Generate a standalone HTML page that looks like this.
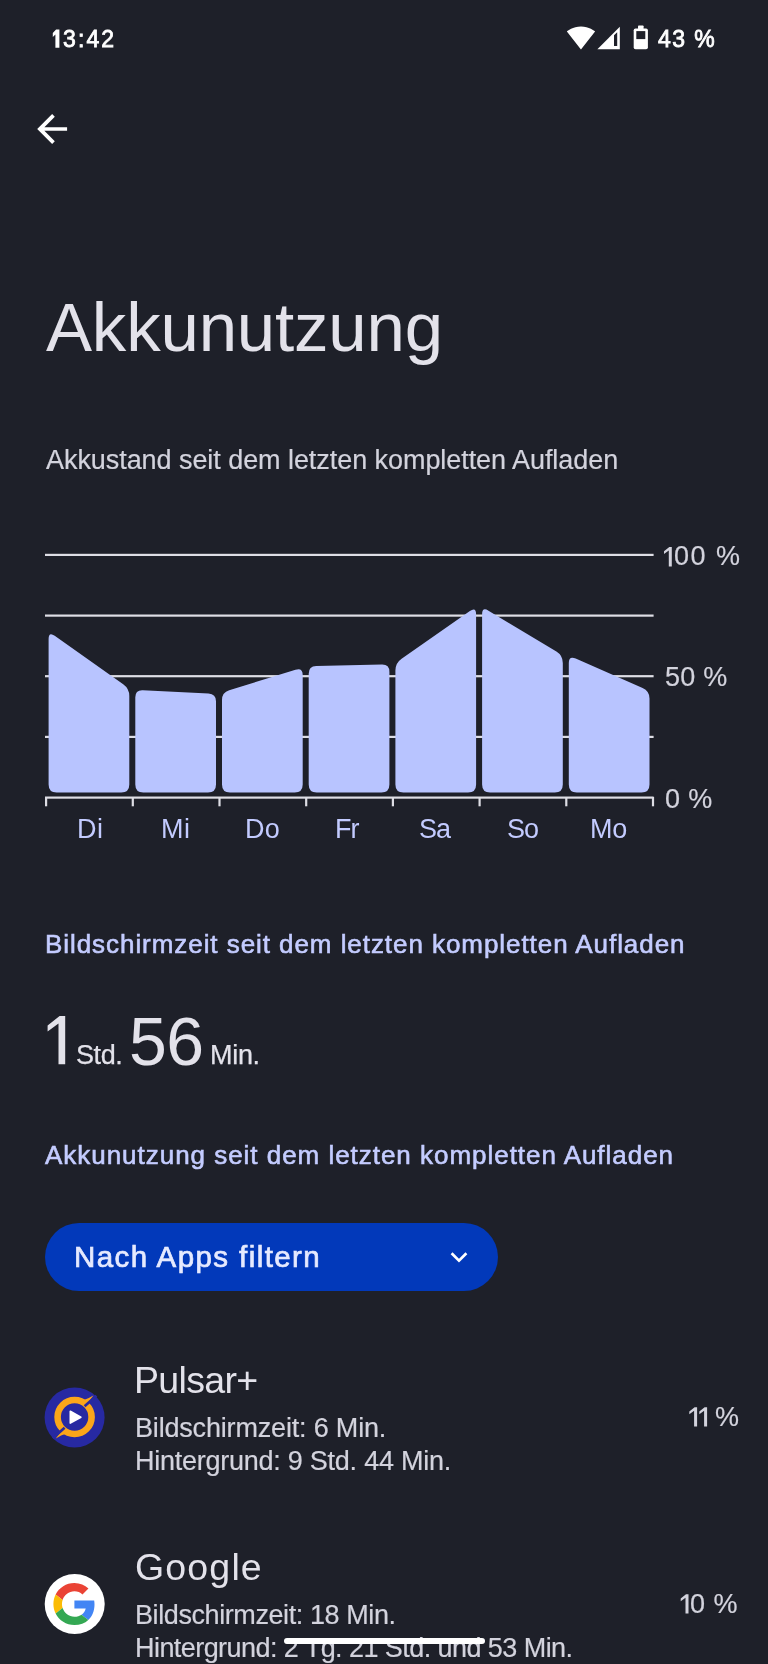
<!DOCTYPE html>
<html lang="de">
<head>
<meta charset="utf-8">
<title>Akkunutzung</title>
<style>
html,body{margin:0;padding:0;}
body{width:768px;height:1664px;overflow:hidden;background:#1e2029;position:relative;
  font-family:"Liberation Sans",sans-serif;color:#e3e2ea;}
.t{position:absolute;white-space:nowrap;line-height:1;margin:0;padding:0;will-change:transform;}
.med{-webkit-text-stroke:0.6px currentColor;}
.lt{-webkit-text-stroke:0.25px currentColor;}
.hvy{-webkit-text-stroke:0.8px currentColor;}
svg{position:absolute;left:0;top:0;}
.sec{color:#c3cbff;}
.sec.med{color:#c4ccff;}
.h{display:inline-block;width:0;overflow:visible;color:transparent;-webkit-text-stroke:0 transparent;letter-spacing:0;}
.sub{color:#d3d3dd;-webkit-text-stroke:0.2px currentColor;}
</style>
</head>
<body>

<!-- status bar -->
<div class="t hvy" id="clock" style="left:62.5px;top:28.1px;font-size:23px;letter-spacing:2.13px;color:#fff;"><span class="h">1</span>3:42</div>
<div class="t hvy" id="batt" style="left:657.5px;top:28.0px;font-size:23px;letter-spacing:1.4px;color:#fff;">43 %</div>

<!-- title -->
<div class="t" id="title" style="left:45.8px;top:292.8px;font-size:69px;letter-spacing:-0.19px;">Akkunutzung</div>
<div class="t sub" id="sub1" style="left:45.6px;top:447.1px;font-size:27px;letter-spacing:-0.06px;">Akkustand seit dem letzten kompletten Aufladen</div>

<!-- chart -->
<svg width="768" height="1664" viewBox="0 0 768 1664" style="pointer-events:none">
<g fill="#dedee5"><rect x="45" y="553.8" width="608.6" height="2.2"/><rect x="45" y="614.5" width="608.6" height="2.2"/><rect x="45" y="675.1" width="608.6" height="2.2"/><rect x="45" y="735.8" width="608.6" height="2.2"/><rect x="45" y="796.5" width="608.6" height="2.2"/><rect x="45.0" y="797" width="2.2" height="9.3"/><rect x="131.7" y="797" width="2.2" height="9.3"/><rect x="218.4" y="797" width="2.2" height="9.3"/><rect x="305.1" y="797" width="2.2" height="9.3"/><rect x="391.8" y="797" width="2.2" height="9.3"/><rect x="478.5" y="797" width="2.2" height="9.3"/><rect x="565.2" y="797" width="2.2" height="9.3"/><rect x="651.9" y="797" width="2.2" height="9.3"/></g>
<g fill="#b8c4ff"><path d="M48.6 639.0 Q48.6 631.5 54.7 635.8 L123.2 684.2 Q129.3 688.5 129.3 696.0 L129.3 784.6 Q129.3 792.6 121.3 792.6 L56.6 792.6 Q48.6 792.6 48.6 784.6 Z"/><path d="M135.3 697.3 Q135.3 689.8 142.8 690.2 L208.5 693.4 Q216.0 693.8 216.0 701.3 L216.0 784.6 Q216.0 792.6 208.0 792.6 L143.3 792.6 Q135.3 792.6 135.3 784.6 Z"/><path d="M222.0 700.0 Q222.0 692.5 229.2 690.3 L295.5 669.7 Q302.7 667.5 302.7 675.0 L302.7 784.6 Q302.7 792.6 294.7 792.6 L230.0 792.6 Q222.0 792.6 222.0 784.6 Z"/><path d="M308.7 673.8 Q308.7 666.3 316.2 666.1 L381.9 664.6 Q389.4 664.4 389.4 671.9 L389.4 784.6 Q389.4 792.6 381.4 792.6 L316.7 792.6 Q308.7 792.6 308.7 784.6 Z"/><path d="M395.4 670.5 Q395.4 663.0 401.6 658.7 L469.9 611.1 Q476.1 606.8 476.1 614.3 L476.1 784.6 Q476.1 792.6 468.1 792.6 L403.4 792.6 Q395.4 792.6 395.4 784.6 Z"/><path d="M482.1 614.3 Q482.1 606.8 488.5 610.7 L556.4 651.6 Q562.8 655.5 562.8 663.0 L562.8 784.6 Q562.8 792.6 554.8 792.6 L490.1 792.6 Q482.1 792.6 482.1 784.6 Z"/><path d="M568.8 663.0 Q568.8 655.5 575.7 658.5 L642.6 688.0 Q649.5 691.0 649.5 698.5 L649.5 784.6 Q649.5 792.6 641.5 792.6 L576.8 792.6 Q568.8 792.6 568.8 784.6 Z"/></g>
</svg>
<!-- chart labels -->
<div class="t sub" id="p100" style="left:673.8px;top:543.4px;font-size:27px;letter-spacing:1.47px;"><span class="h">1</span>00 %</div>
<div class="t sub" id="p50" style="left:664.8px;top:664.4px;font-size:27px;letter-spacing:0.27px;">50 %</div>
<div class="t sub" id="p0" style="left:664.8px;top:785.7px;font-size:27px;letter-spacing:0.4px;">0 %</div>

<div class="t sec" id="d1" style="left:76.6px;top:815.9px;font-size:27px;letter-spacing:0.5px;">Di</div>
<div class="t sec" id="d2" style="left:161.2px;top:815.9px;font-size:27px;letter-spacing:0.6px;">Mi</div>
<div class="t sec" id="d3" style="left:245.1px;top:815.9px;font-size:27px;letter-spacing:0.2px;">Do</div>
<div class="t sec" id="d4" style="left:334.9px;top:815.9px;font-size:27px;letter-spacing:-1.0px;">Fr</div>
<div class="t sec" id="d5" style="left:418.9px;top:815.9px;font-size:27px;letter-spacing:-1.0px;">Sa</div>
<div class="t sec" id="d6" style="left:507.0px;top:815.9px;font-size:27px;letter-spacing:-1.0px;">So</div>
<div class="t sec" id="d7" style="left:590.4px;top:815.9px;font-size:27px;letter-spacing:-0.3px;">Mo</div>

<!-- screen time -->
<div class="t sec med" id="sec1" style="left:44.5px;top:931.0px;font-size:26px;letter-spacing:0.94px;">Bildschirmzeit seit dem letzten kompletten Aufladen</div>
<div class="t" id="n1" style="left:45px;top:1007px;font-size:68px;color:transparent;">1</div>
<div class="t lt" id="u1" style="left:75.8px;top:1041.6px;font-size:27px;letter-spacing:-0.43px;">Std.</div>
<div class="t" id="n2" style="left:128.8px;top:1007.3px;font-size:68px;letter-spacing:-0.6px;">56</div>
<div class="t lt" id="u2" style="left:209.8px;top:1041.6px;font-size:27px;letter-spacing:-0.3px;">Min.</div>

<div class="t sec med" id="sec2" style="left:45.0px;top:1142.3px;font-size:26px;letter-spacing:0.97px;">Akkunutzung seit dem letzten kompletten Aufladen</div>

<!-- filter button -->
<div id="btn" style="position:absolute;left:45px;top:1223px;width:452.6px;height:68px;border-radius:34px;background:#0239ba;"></div>
<div class="t med" id="btnt" style="left:73.6px;top:1241.6px;font-size:29.5px;letter-spacing:1.42px;color:#e6eaff;-webkit-text-stroke:0.7px currentColor;">Nach Apps filtern</div>

<!-- rows -->
<div class="t" id="r1t" style="left:134.3px;top:1362.1px;font-size:37.5px;letter-spacing:-0.68px;">Pulsar+</div>
<div class="t sub" id="r1a" style="left:134.9px;top:1415.3px;font-size:27px;letter-spacing:-0.18px;">Bildschirmzeit: 6 Min.</div>
<div class="t sub" id="r1b" style="left:135.2px;top:1448.1px;font-size:27px;letter-spacing:-0.25px;">Hintergrund: 9 Std. 44 Min.</div>
<div class="t sub" id="r1p" style="left:714.8px;top:1403.6px;font-size:27px;letter-spacing:0px;"><span class="h">11&nbsp;</span>%</div>

<div class="t" id="r2t" style="left:134.5px;top:1549.1px;font-size:37.5px;letter-spacing:1.16px;">Google</div>
<div class="t sub" id="r2a" style="left:134.8px;top:1602.3px;font-size:27px;letter-spacing:-0.41px;">Bildschirmzeit: 18 Min.</div>
<div class="t sub" id="r2b" style="left:135.0px;top:1635.1px;font-size:27px;letter-spacing:-0.56px;">Hintergrund: 2 Tg. 21 Std. und 53 Min.</div>
<div class="t sub" id="r2p" style="left:690.2px;top:1590.6px;font-size:27px;letter-spacing:0.43px;"><span class="h">1</span>0 %</div>

<!-- icons -->
<svg width="768" height="1664" viewBox="0 0 768 1664" style="pointer-events:none">
<!-- wifi -->
<g transform="translate(566.45 22.9) scale(1.21 1.235)" fill="#fff"><path d="M12.01 21.49L23.64 7c-.45-.34-4.93-4-11.64-4C5.28 3 .81 6.66.36 7l11.63 14.49.01.01.01-.01z"/></g>
<!-- signal -->
<path d="M597.4 49.2 L619.8 26.8 L619.8 49.2 Z" fill="#fff"/>
<path d="M614 35.2 L617.2 32.2 V46.1 H614 Z" fill="#1e2029"/>
<!-- battery -->
<rect x="638" y="25.4" width="5.6" height="4" rx="0.8" fill="#fff"/>
<rect x="633.7" y="28.4" width="14.2" height="20.9" rx="1.8" fill="#fff"/>
<rect x="636.3" y="31.1" width="9" height="8" fill="#1e2029"/>
<!-- back arrow -->
<g transform="translate(29.75 106.6) scale(1.867)" fill="#fff"><path d="M20 11H7.83l5.59-5.59L12 4l-8 8 8 8 1.41-1.41L7.83 13H20v-2z"/></g>
<!-- big 1 -->
<path d="M65.2 1016.1 H59.6 L47.6 1025.4 V1031.6 L58.5 1023.4 V1064.2 H65.2 Z" fill="#e3e2ea"/>
<!-- clock one -->
<path transform="translate(59.4 29.5)" d="M0 0 H-3.3 L-6.6 3.6 V7.4 L-4 5 V18.2 H0 Z" fill="#fff"/>
<!-- small ones -->
<g fill="#d3d3dd">
<path transform="translate(697.1 1407.2)" d="M0 0 H-2.5 L-7.8 4.3 V7.1 L-3 3.5 V19.4 H0 Z"/>
<path transform="translate(707.1 1407.2)" d="M0 0 H-2.5 L-7.8 4.3 V7.1 L-3 3.5 V19.4 H0 Z"/>
<path transform="translate(688.5 1594.2)" d="M0 0 H-2.5 L-7.8 4.3 V7.1 L-3 3.5 V19.4 H0 Z"/>
<path transform="translate(671.8 547)" d="M0 0 H-2.5 L-7.8 4.3 V7.1 L-3 3.5 V19.4 H0 Z"/>
</g>
<!-- chevron -->
<path d="M451.6 1253.2 L459 1260.6 L466.4 1253.2" fill="none" stroke="#fff" stroke-width="2.7" stroke-linecap="butt" stroke-linejoin="miter"/>
<!-- pulsar icon -->
<circle cx="74.6" cy="1417.5" r="30" fill="#2729a2"/>
<circle cx="74.6" cy="1417" r="17" fill="none" stroke="#fba61a" stroke-width="6.6"/>
<g>
<path d="M83.2 1400.2 Q88 1399 93.4 1395.6 L86.2 1405.2 Z" fill="#fba61a"/>
<path d="M96.4 1395.8 L84.6 1406.2" stroke="#2729a2" stroke-width="2.6" fill="none"/>
</g>
<g transform="rotate(180 74.6 1417)">
<path d="M83.2 1400.2 Q88 1399 93.4 1395.6 L86.2 1405.2 Z" fill="#fba61a"/>
<path d="M96.4 1395.8 L84.6 1406.2" stroke="#2729a2" stroke-width="2.6" fill="none"/>
</g>
<path d="M70.3 1411.3 L80.9 1417.2 L70.3 1423.1 Z" fill="#fff" stroke="#fff" stroke-width="1.6" stroke-linejoin="round"/>
<!-- google icon -->
<circle cx="74.7" cy="1604" r="30" fill="#fff"/>
<g transform="translate(53.4 1583) scale(0.875)">
<path fill="#EA4335" d="M24 9.5c3.54 0 6.71 1.22 9.21 3.6l6.85-6.85C35.9 2.38 30.47 0 24 0 14.62 0 6.51 5.38 2.56 13.22l7.98 6.19C12.43 13.72 17.74 9.5 24 9.5z"/>
<path fill="#4285F4" d="M46.98 24.55c0-1.57-.15-3.09-.38-4.55H24v9.02h12.94c-.58 2.96-2.26 5.48-4.78 7.18l7.73 6c4.51-4.18 7.09-10.36 7.09-17.65z"/>
<path fill="#FBBC05" d="M10.53 28.59c-.48-1.45-.76-2.99-.76-4.59s.27-3.14.76-4.59l-7.98-6.19C.92 16.46 0 20.12 0 24c0 3.88.92 7.54 2.56 10.78l7.97-6.19z"/>
<path fill="#34A853" d="M24 48c6.48 0 11.93-2.13 15.89-5.81l-7.73-6c-2.15 1.45-4.92 2.3-8.16 2.3-6.26 0-11.57-4.22-13.47-9.91l-7.98 6.19C6.51 42.62 14.62 48 24 48z"/>
</g>
</svg>
<!-- gesture bar -->
<div id="gest" style="position:absolute;left:283.5px;top:1638px;width:201px;height:6px;border-radius:3px;background:#fff;"></div>

</body>
</html>
